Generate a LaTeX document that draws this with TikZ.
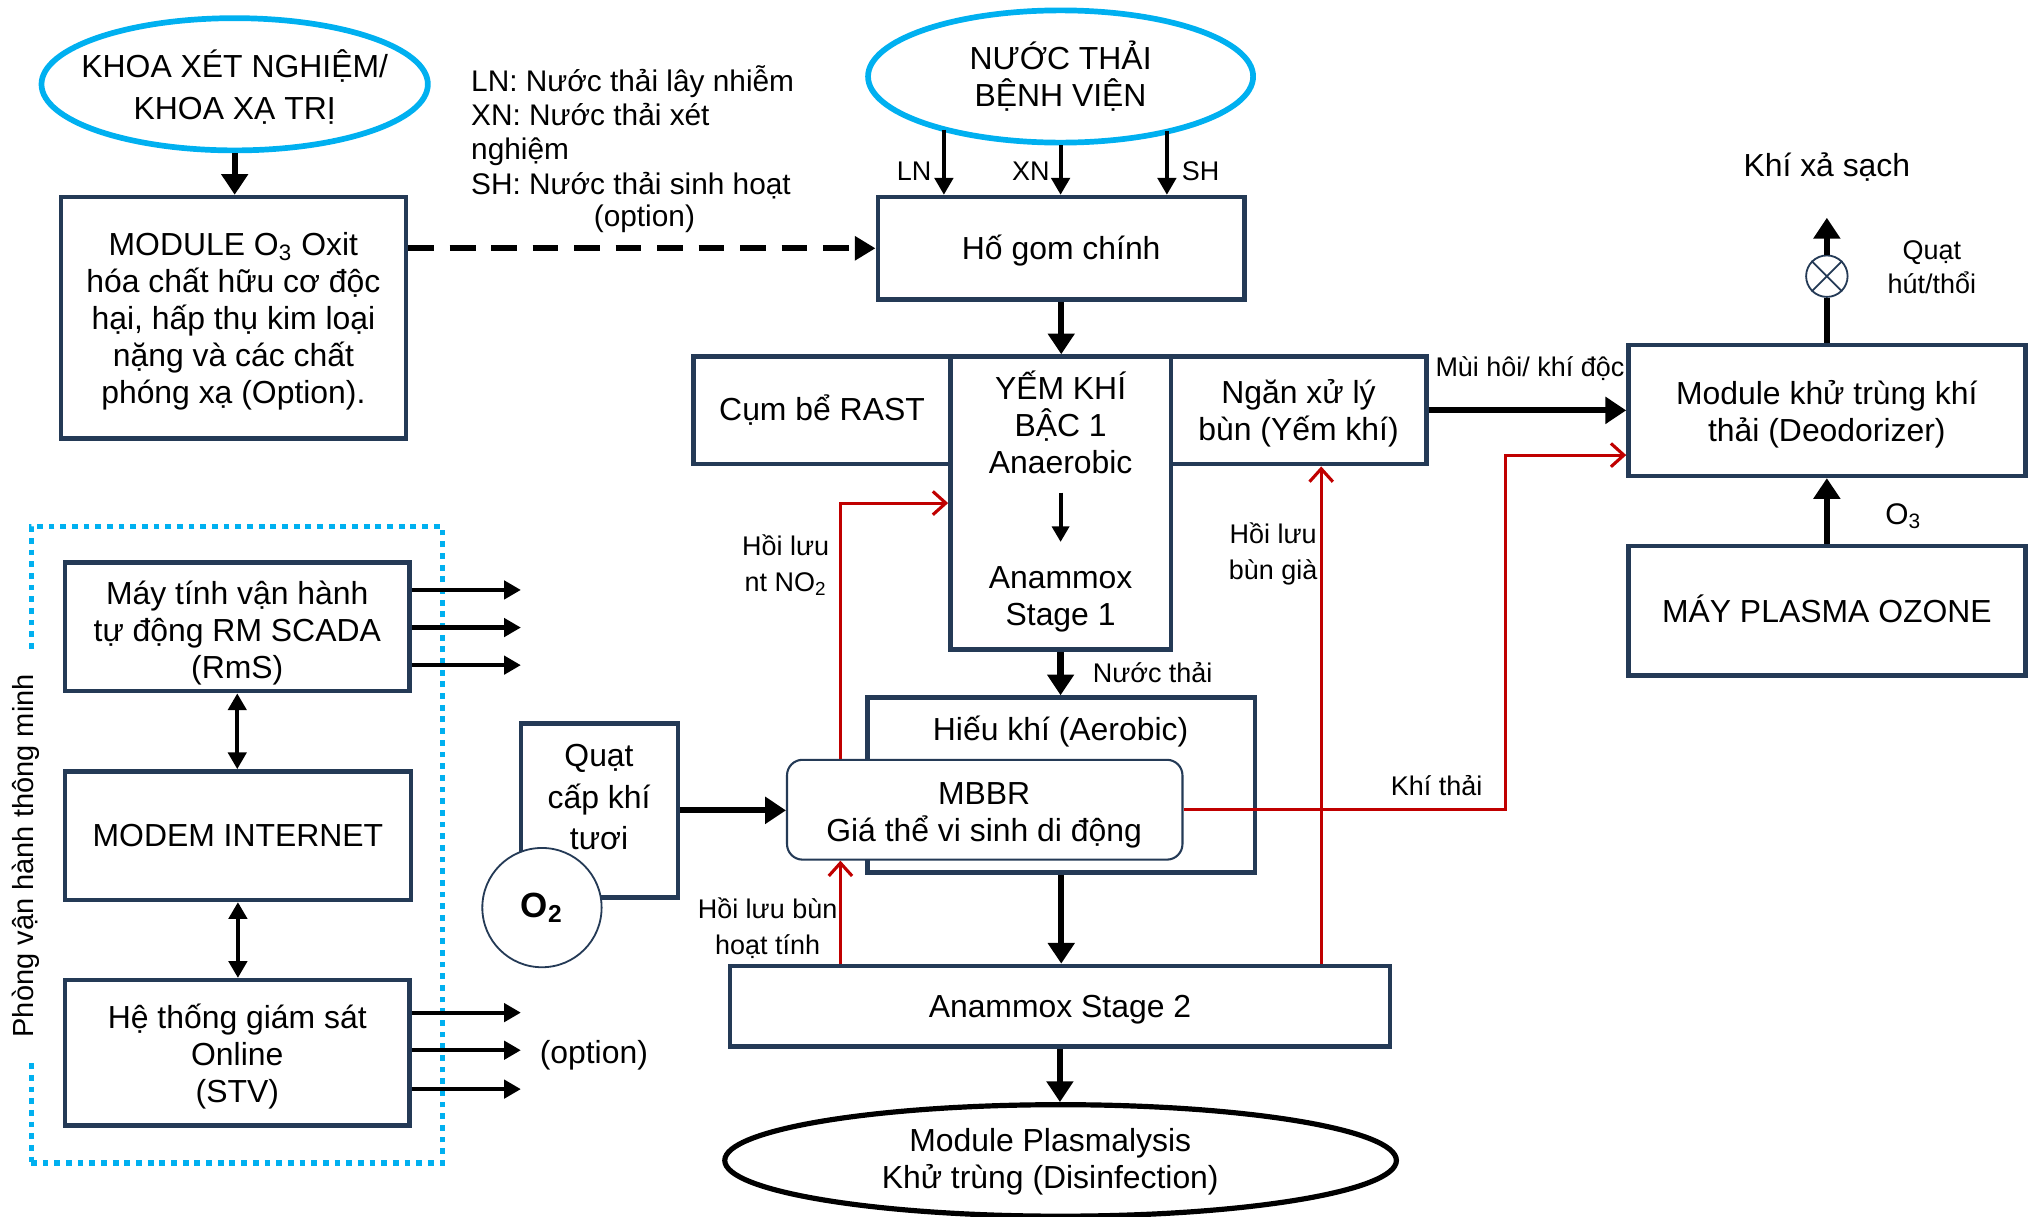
\documentclass[tikz,border=0pt]{standalone}
\usepackage{fontspec}
\setmainfont{Liberation Sans}
\usetikzlibrary{shapes.geometric,arrows.meta,calc}
\definecolor{navy}{HTML}{243A56}
\definecolor{cyanb}{HTML}{00B0F0}
\definecolor{redl}{HTML}{C00000}
\newcommand\myfont{\fontsize{12.3}{14.3}\selectfont}
\newcommand\mylbl{\fontsize{10.4}{14}\selectfont}
\tikzset{
 box/.style={draw=navy, line width=1.75pt, rectangle, inner sep=0pt, align=center, font=\myfont},
 cyanell/.style={ellipse, draw=cyanb, line width=2.2pt, inner sep=0pt, align=center, font=\myfont},
 txt/.style={inner sep=0pt, align=center, font=\myfont},
 lbl/.style={inner sep=0pt, align=center, font=\mylbl},
 thickarr/.style={line width=2.4pt, -{Triangle[length=8pt,width=10pt]}},
 thinarr/.style={line width=1.6pt, -{Triangle[length=6.5pt,width=7pt]}},
 dblarr/.style={line width=1.6pt, {Triangle[length=6.5pt,width=7pt]}-{Triangle[length=6.5pt,width=7pt]}},
 redarr/.style={draw=redl, line width=1.2pt, -{Straight Barb[length=5pt,width=9pt]}},
}
\begin{document}
\begin{tikzpicture}[x=0.5pt,y=-0.5pt]
\useasboundingbox (0,0) rectangle (1568,938);

% room frame
\node[draw=cyanb, line width=2pt, dash pattern=on 2.2pt off 2.3pt, rectangle, inner sep=0pt,
      minimum width=158.5pt, minimum height=245.5pt] (room) at (182.5,651.5) {};
\node[rotate=90, fill=white, inner xsep=8pt, inner ysep=1pt, font=\fontsize{11.2}{13}\selectfont] (phong) at (20,660) {Phòng vận hành thông minh};

% nodes
\node[cyanell, minimum width=149pt, minimum height=51pt] (khoa) at (181,65) {};
\node[txt, font=\fontsize{12.3}{16}\selectfont] (khoatxt) at (181,67) {KHOA XÉT NGHIỆM/\\KHOA XẠ TRỊ};
\node[cyanell, minimum width=148.5pt, minimum height=51pt] (nuoc) at (818,59) {NƯỚC THẢI\\BỆNH VIỆN};
\node[box, minimum width=133pt, minimum height=93pt] (module) at (180,245) {};
\node[txt] (moduletxt) at (180,248) {MODULE O\textsubscript{3} Oxit\\hóa chất hữu cơ độc\\hại, hấp thụ kim loại\\nặng và các chất\\phóng xạ (Option).};
\node[box, minimum width=141.5pt, minimum height=39.5pt] (hogom) at (818.5,191.5) {};
\node[txt] (hogomtxt) at (818.5,193.5) {Hố gom chính};
\node[box, minimum width=99pt, minimum height=41.5pt] (rast) at (634,316.5) {Cụm bể RAST};
\node[box, minimum width=85pt, minimum height=113pt] (yem) at (818,388) {};
\node[box, minimum width=98.5pt, minimum height=41.5pt] (ngan) at (1001.5,316.5) {};
\node[txt] (ngantxt) at (1001.5,318.5) {Ngăn xử lý\\bùn (Yếm khí)};
\node[box, minimum width=153pt, minimum height=50.5pt] (deo) at (1409,316.5) {};
\node[txt] (deotxt) at (1409,319.5) {Module khử trùng khí\\thải (Deodorizer)};
\node[box, minimum width=153pt, minimum height=50pt] (plasma) at (1409,471) {};
\node[txt] (plasmatxt) at (1409,469.5) {MÁY PLASMA OZONE};
\node[circle, draw=navy, line width=0.7pt, minimum size=16pt, inner sep=0pt] (fan) at (1409,213) {};
\node[box, minimum width=149.5pt, minimum height=67.5pt] (hieu) at (818.5,605.5) {};
\node[draw=navy, line width=0.8pt, fill=white, rounded corners=6pt, rectangle, minimum width=152.5pt, minimum height=38.5pt, inner sep=0pt] (mbbr) at (759.5,624.5) {};
\node[txt] (mbbrtxt) at (759,629) {MBBR\\Giá thể vi sinh di động};
\node[box, minimum width=60.5pt, minimum height=67pt] (quat) at (462.5,625) {};
\node[txt, font=\fontsize{12.3}{16}\selectfont] (quattxt) at (462,615) {Quạt\\cấp khí\\tươi};
\node[circle, draw=navy, line width=0.7pt, fill=white, minimum size=46pt, inner sep=0pt, font=\bfseries\fontsize{13.5}{15}\selectfont] (o2) at (418,700) {O\textsubscript{2}};
\node[box, minimum width=254.5pt, minimum height=31pt] (ana2) at (817.5,776) {};
\node[txt] (ana2txt) at (817.5,779) {Anammox Stage 2};
\node[ellipse, draw=black, line width=2pt, minimum width=259pt, minimum height=43pt, inner sep=0pt] (plas) at (818,895) {};
\node[txt] (plastxt) at (810,896) {Module Plasmalysis\\Khử trùng (Disinfection)};
\node[box, minimum width=133pt, minimum height=49.5pt] (may) at (183,483.5) {};
\node[txt] (maytxt) at (183,488) {Máy tính vận hành\\tự động RM SCADA\\(RmS)};
\node[box, minimum width=133.5pt, minimum height=49.5pt] (modem) at (183.5,644.5) {MODEM INTERNET};
\node[box, minimum width=133pt, minimum height=56pt] (he) at (183,812) {};
\node[txt] (hetxt) at (183,815) {Hệ thống giám sát\\Online\\(STV)};

% texts inside yem / hieu
\node[txt] (yemt) at (818,325.5) {YẾM KHÍ\\BẬC 1\\Anaerobic};
\node[txt] (yemb) at (818,462.5) {Anammox\\Stage 1};
\node[txt] (hieut) at (818,564) {Hiếu khí (Aerobic)};

% labels
\node[anchor=west, inner sep=0pt, align=left, font=\fontsize{11.5}{13.15}\selectfont] (legend) at (363,102) {LN: Nước thải lây nhiễm\\XN: Nước thải xét\\nghiệm\\SH: Nước thải sinh hoạt};
\node[inner sep=0pt, font=\fontsize{11.5}{13.15}\selectfont] (legopt) at (497,169) {(option)};
\node[lbl] (lln) at (705,132) {LN};
\node[lbl] (lxn) at (795,132) {XN};
\node[lbl] (lsh) at (926,132) {SH};
\node[lbl] (lmui) at (1180,284) {Mùi hôi/ khí độc};
\node[txt] (lkx) at (1409,129) {Khí xả sạch};
\node[lbl, font=\fontsize{10.4}{13}\selectfont] (lquat) at (1490,206) {Quạt\\hút/thổi};
\node[txt, font=\fontsize{11.5}{13}\selectfont] (lo3) at (1468,398) {O\textsubscript{3}};
\node[lbl] (lno2) at (606,436) {Hồi lưu\\nt NO\textsubscript{2}};
\node[lbl] (lbg) at (982,427) {Hồi lưu\\bùn già};
\node[lbl] (lhlb) at (592,716) {Hồi lưu bùn\\hoạt tính};
\node[lbl] (lnt) at (889,519) {Nước thải};
\node[lbl] (lkt) at (1108,606) {Khí thải};
\node[txt] (lopt) at (458,814) {(option)};

% black connectors
\draw[thickarr] (khoa.south) -- (khoa.south |- module.north);
\draw[line width=2.4pt, dash pattern=on 10pt off 6pt, -{Triangle[length=8pt,width=9pt]}] (module.east |- hogom.west) -- (hogom.west);
\coordinate (lnS) at ($(nuoc.center)+(-90,41)$);
\coordinate (shS) at ($(nuoc.center)+(82,42)$);
\draw[thinarr] (lnS) -- (lnS |- hogom.north);
\draw[thinarr] (nuoc.south) -- (nuoc.south |- hogom.north);
\draw[thinarr] (shS) -- (shS |- hogom.north);
\draw[thickarr] (hogom.south) -- (hogom.south |- yem.north);
\coordinate (ya) at ($(yem.center)+(0,-8)$);
\coordinate (yb) at ($(yem.center)+(0,30)$);
\draw[line width=1.5pt, -{Triangle[length=6pt,width=6.5pt]}] (ya) -- (yb);
\draw[thickarr] (yem.south) -- (yem.south |- hieu.north);
\draw[thickarr] (ngan.east) -- (deo.west);
\draw[line width=2.4pt] (deo.north) -- (fan.south);
\coordinate (fanTop) at (1409,168);
\draw[thickarr] (fan.north) -- (fanTop);
\draw[navy, line width=0.7pt] (fan.45) -- (fan.225) (fan.135) -- (fan.315);
\draw[thickarr] (plasma.north) -- (deo.south);
\draw[thickarr] (quat.east) -- (quat.east -| mbbr.west);
\draw[thickarr] (hieu.south) -- (hieu.south |- ana2.north);
\draw[thickarr] (ana2.south) -- (ana2.south |- plas.north);
\foreach \dy in {-28.5,0.5,29.5} \draw[thinarr] ($(may.east)+(0,\dy)$) -- ++(84,0);
\foreach \dy in {-31,-2,28} \draw[thinarr] ($(he.east)+(0,\dy)$) -- ++(84,0);
\draw[dblarr] (may.south) -- (may.south |- modem.north);
\draw[dblarr] (modem.south) -- (modem.south |- he.north);

% red connectors
\coordinate (no2) at ($(mbbr.north west)+(42,0)$);
\draw[redarr] (no2) |- (yem.west);
\coordinate (hlb) at ($(mbbr.south west)+(42,0)$);
\draw[redarr] (hlb |- ana2.north) -- (hlb);
\coordinate (bg) at ($(ngan.south)+(17.5,0)$);
\draw[redarr] (bg |- ana2.north) -- (bg);
\coordinate (kt) at ($(deo.west)+(0,34.5)$);
\coordinate (ktc) at ($(kt)+(-93,0)$);
\draw[redarr] (mbbr.east) -| (ktc) -- (kt);
\end{tikzpicture}
\end{document}
